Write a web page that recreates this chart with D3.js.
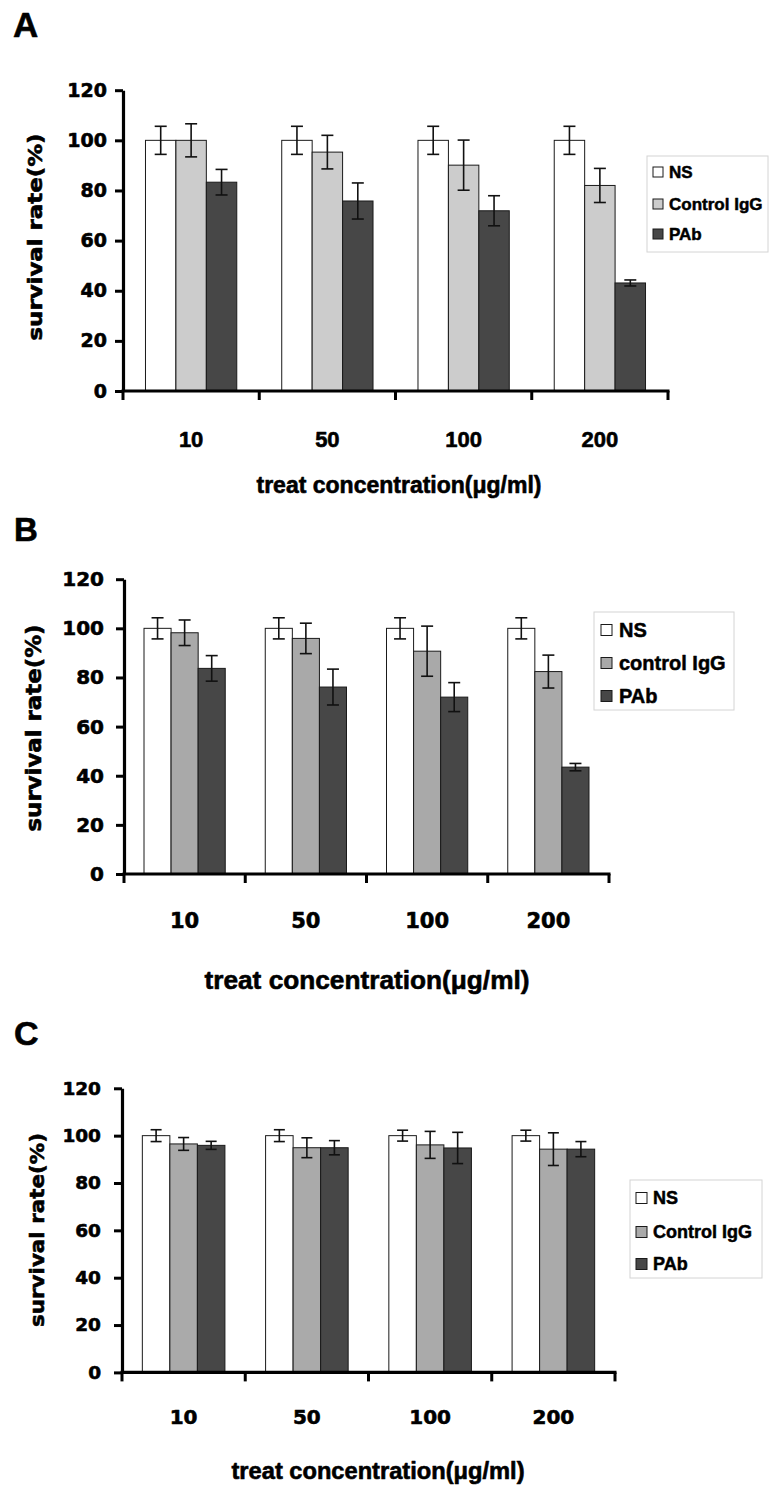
<!DOCTYPE html>
<html>
<head>
<meta charset="utf-8">
<script src="https://cdn.jsdelivr.net/npm/d3@7"></script>
<style>
html,body{margin:0;padding:0;background:#fff;}
svg{display:block;}
</style>
</head>
<body>
<div id="chart"></div>
<script>
// ---------------- DATA ----------------
const categories = ["10", "50", "100", "200"];
const yTickValues = [0, 20, 40, 60, 80, 100, 120];
const xTitle = "treat concentration(\u03bcg/ml)";
const yTitle = "survival rate(%)";

// Panel A
const seriesNamesA = ["NS", "Control IgG", "PAb"];
const nsA    = [100, 100, 100, 100];
const ctrlA  = [100, 95.3, 90.1, 82.0];
const pabA   = [83.3, 75.8, 71.9, 43.1];
const nsErrA   = [5.6, 5.6, 5.6, 5.6];
const ctrlErrA = [6.6, 6.7, 10.0, 6.8];
const pabErrA  = [5.1, 7.2, 6.0, 1.2];

// Panel B
const seriesNamesB = ["NS", "control IgG", "PAb"];
const nsB    = [100, 100, 100, 100];
const ctrlB  = [98.2, 95.9, 90.7, 82.4];
const pabB   = [83.7, 76.1, 72.0, 43.5];
const nsErrB   = [4.3, 4.3, 4.3, 4.3];
const ctrlErrB = [5.2, 6.2, 10.2, 6.7];
const pabErrB  = [5.2, 7.3, 5.9, 1.5];

// Panel C
const seriesNamesC = ["NS", "Control IgG", "PAb"];
const nsC    = [100, 100, 100, 100];
const ctrlC  = [96.5, 94.9, 96.1, 94.3];
const pabC   = [95.9, 94.9, 94.8, 94.3];
const nsErrC   = [2.5, 2.5, 2.3, 2.3];
const ctrlErrC = [2.7, 4.2, 5.7, 6.9];
const pabErrC  = [1.7, 3.0, 6.6, 3.2];

// ---------------- LAYOUT / STYLE ----------------
const ARIAL = "'Liberation Sans', Arial, Helvetica, sans-serif";
const WIDE = "'DejaVu Sans', Verdana, sans-serif";

const panels = [
  {
    letter: "A", letterX: 13, letterY: 37, letterSize: 35,
    x0: 123, x1: 668, yTop: 90.2, yBot: 391,
    names: seriesNamesA, values: [nsA, ctrlA, pabA], errs: [nsErrA, ctrlErrA, pabErrA],
    colors: ["#ffffff", "#cccccc", "#474747"], capW: 12,
    yTickFont: WIDE, yTickSize: 19, yTickPad: 8,
    xTickFont: ARIAL, xTickSize: 22, xTickY: 439,
    yTitleX: 35, yTitleY: 237, yTitleSize: 20, yTitleLen: 207,
    xTitleX: 399, xTitleY: 485, xTitleSize: 23, xTitleLen: 285,
    legend: { x: 647, y: 156, w: 121, h: 96, rows: [172, 204, 234], swX: 653, sw: 10, txX: 669, size: 17 }
  },
  {
    letter: "B", letterX: 14, letterY: 541, letterSize: 33,
    x0: 124, x1: 609, yTop: 579.2, yBot: 874,
    names: seriesNamesB, values: [nsB, ctrlB, pabB], errs: [nsErrB, ctrlErrB, pabErrB],
    colors: ["#ffffff", "#a9a9a9", "#474747"], capW: 12,
    yTickFont: WIDE, yTickSize: 20, yTickPad: 12,
    xTickFont: WIDE, xTickSize: 21, xTickY: 921,
    yTitleX: 34, yTitleY: 728, yTitleSize: 21, yTitleLen: 207,
    xTitleX: 367, xTitleY: 980, xTitleSize: 26, xTitleLen: 325,
    legend: { x: 594, y: 612, w: 140, h: 98, rows: [630, 663, 696], swX: 601, sw: 11, txX: 619, size: 20 }
  },
  {
    letter: "C", letterX: 14, letterY: 1045, letterSize: 34,
    x0: 122, x1: 615, yTop: 1088.3, yBot: 1372.4,
    names: seriesNamesC, values: [nsC, ctrlC, pabC], errs: [nsErrC, ctrlErrC, pabErrC],
    colors: ["#ffffff", "#aaaaaa", "#474747"], capW: 11,
    yTickFont: WIDE, yTickSize: 18.5, yTickPad: 13,
    xTickFont: WIDE, xTickSize: 20, xTickY: 1417,
    yTitleX: 37, yTitleY: 1230, yTitleSize: 20, yTitleLen: 194,
    xTitleX: 378, xTitleY: 1471, xTitleSize: 23, xTitleLen: 293,
    legend: { x: 630, y: 1180, w: 132, h: 98, rows: [1198, 1232, 1264], swX: 636, sw: 11, txX: 653, size: 18 }
  }
];

// heavier text, like the reference
function heavy(sel, w) {
  return sel.attr("stroke", "#000").attr("stroke-width", w).attr("stroke-linejoin", "round");
}

// ---------------- DRAW ----------------
const svg = d3.select("#chart").append("svg")
  .attr("width", 773).attr("height", 1489)
  .attr("viewBox", "0 0 773 1489");

svg.append("rect").attr("width", 773).attr("height", 1489).attr("fill", "#fff");

panels.forEach(p => {
  const g = svg.append("g");

  const x = d3.scaleBand().domain(categories).range([p.x0, p.x1])
    .paddingInner(0.33).paddingOuter(0.165);
  const xs = d3.scaleBand().domain(d3.range(p.names.length)).range([0, x.bandwidth()]);
  const y = d3.scaleLinear().domain([0, 120]).range([p.yBot, p.yTop]);

  // panel letter
  heavy(g.append("text").attr("x", p.letterX).attr("y", p.letterY)
    .attr("font-family", ARIAL).attr("font-weight", "bold")
    .attr("font-size", p.letterSize).attr("fill", "#000")
    .text(p.letter), 0.6);

  // bars
  p.names.forEach((name, si) => {
    g.append("g").selectAll("rect").data(categories).join("rect")
      .attr("x", c => x(c) + xs(si))
      .attr("y", (c, i) => y(p.values[si][i]))
      .attr("width", xs.bandwidth())
      .attr("height", (c, i) => y(0) - y(p.values[si][i]))
      .attr("fill", p.colors[si])
      .attr("stroke", "#1a1a1a").attr("stroke-width", 1);
  });

  // error bars
  p.names.forEach((name, si) => {
    const eg = g.append("g").attr("stroke", "#111").attr("stroke-width", 1.6).attr("fill", "none");
    categories.forEach((c, i) => {
      const cx = x(c) + xs(si) + xs.bandwidth() / 2;
      const v = p.values[si][i], e = p.errs[si][i];
      const yt = y(v + e), yb = y(v - e);
      eg.append("line").attr("x1", cx).attr("x2", cx).attr("y1", yt).attr("y2", yb);
      eg.append("line").attr("x1", cx - p.capW / 2).attr("x2", cx + p.capW / 2).attr("y1", yt).attr("y2", yt);
      eg.append("line").attr("x1", cx - p.capW / 2).attr("x2", cx + p.capW / 2).attr("y1", yb).attr("y2", yb);
    });
  });

  // y axis
  const ya = g.append("g").attr("transform", `translate(${p.x0},0)`)
    .call(d3.axisLeft(y).tickValues(yTickValues).tickSize(8).tickSizeOuter(0).tickPadding(p.yTickPad));
  ya.select(".domain").attr("stroke", "#000").attr("stroke-width", 3.2);
  ya.selectAll(".tick line").attr("stroke", "#000").attr("stroke-width", 3);
  heavy(ya.selectAll(".tick text")
    .attr("font-family", p.yTickFont).attr("font-weight", "bold")
    .attr("font-size", p.yTickSize).attr("fill", "#000"), 0.6);

  // x axis line and boundary ticks
  const half = (x.step() - x.bandwidth()) / 2;
  const bounds = categories.map(c => x(c) - half).concat([x(categories[categories.length - 1]) + x.bandwidth() + half]);
  g.append("line").attr("x1", p.x0 - 1.5).attr("x2", p.x1 + 1.5)
    .attr("y1", y(0)).attr("y2", y(0)).attr("stroke", "#000").attr("stroke-width", 3.2);
  g.append("g").selectAll("line").data(bounds).join("line")
    .attr("x1", d => d).attr("x2", d => d)
    .attr("y1", y(0)).attr("y2", y(0) + 9)
    .attr("stroke", "#000").attr("stroke-width", 3);

  // x tick labels
  heavy(g.append("g").selectAll("text").data(categories).join("text")
    .attr("x", c => x(c) + x.bandwidth() / 2)
    .attr("y", p.xTickY)
    .attr("text-anchor", "middle").attr("dominant-baseline", "central")
    .attr("font-family", p.xTickFont).attr("font-weight", "bold")
    .attr("font-size", p.xTickSize).attr("fill", "#000")
    .text(c => c), 0.6);

  // x title
  heavy(g.append("text").attr("x", p.xTitleX).attr("y", p.xTitleY)
    .attr("text-anchor", "middle").attr("dominant-baseline", "central")
    .attr("font-family", ARIAL).attr("font-weight", "bold")
    .attr("font-size", p.xTitleSize).attr("fill", "#000")
    .attr("textLength", p.xTitleLen).attr("lengthAdjust", "spacingAndGlyphs")
    .text(xTitle), 0.6);

  // y title
  heavy(g.append("text")
    .attr("transform", `translate(${p.yTitleX},${p.yTitleY}) rotate(-90)`)
    .attr("text-anchor", "middle").attr("dominant-baseline", "central")
    .attr("font-family", WIDE).attr("font-weight", "bold")
    .attr("font-size", p.yTitleSize).attr("fill", "#000")
    .attr("textLength", p.yTitleLen).attr("lengthAdjust", "spacingAndGlyphs")
    .text(yTitle), 0.6);

  // legend
  const L = p.legend;
  const lg = g.append("g");
  lg.append("rect").attr("x", L.x).attr("y", L.y).attr("width", L.w).attr("height", L.h)
    .attr("fill", "#fff").attr("stroke", "#d4d4d4").attr("stroke-width", 1);
  p.names.forEach((name, si) => {
    lg.append("rect").attr("x", L.swX).attr("y", L.rows[si] - L.sw / 2)
      .attr("width", L.sw).attr("height", L.sw)
      .attr("fill", p.colors[si]).attr("stroke", "#1a1a1a").attr("stroke-width", 1);
    heavy(lg.append("text").attr("x", L.txX).attr("y", L.rows[si])
      .attr("dominant-baseline", "central")
      .attr("font-family", ARIAL).attr("font-weight", "bold")
      .attr("font-size", L.size).attr("fill", "#000")
      .text(name), 0.5);
  });
});
</script>
</body>
</html>
